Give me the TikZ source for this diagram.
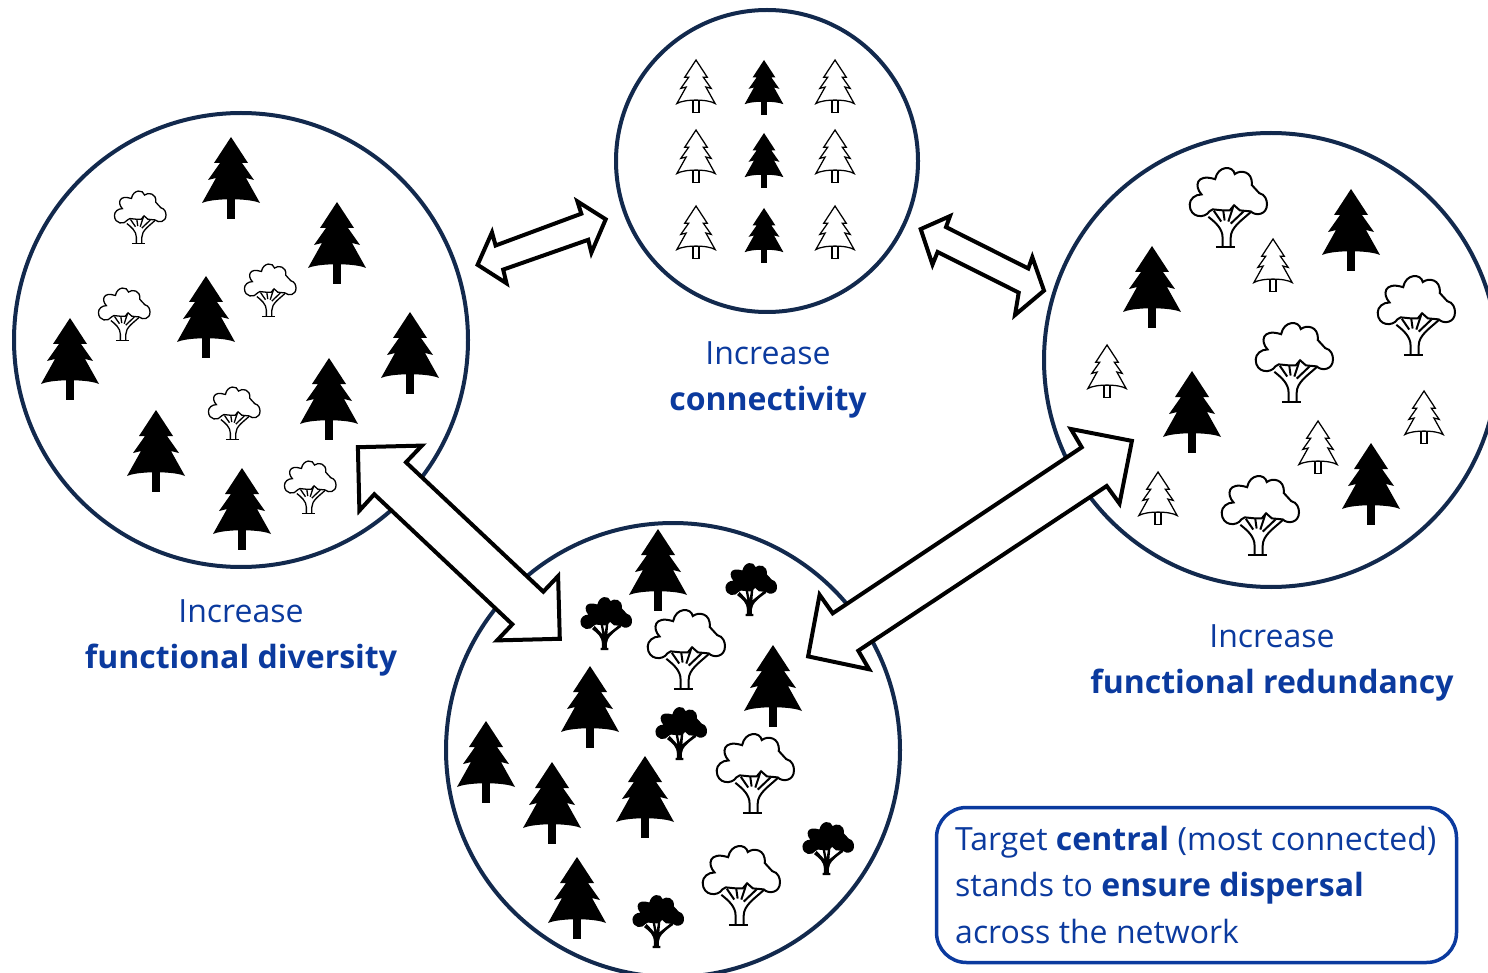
\documentclass[tikz,border=0pt]{standalone}
\usepackage{fontspec}
\setmainfont{Open Sans}
\definecolor{ringnavy}{HTML}{12294D}
\definecolor{labelblue}{HTML}{0B3A9E}
\tikzset{
  ring/.style={circle,draw=ringnavy,line width=4pt,minimum size=#1,inner sep=0pt,outer sep=0pt},
  blockarrow/.style={draw=black,fill=white,line width=4pt,miter limit=10},
  lbl/.style={anchor=base,text=labelblue,font=\fontsize{32}{32}\selectfont,inner sep=0pt},
  notebox/.style={draw=labelblue,line width=3.5pt,rounded corners=30pt,anchor=north west,inner sep=0pt,outer sep=0pt,minimum width=520pt,minimum height=155pt},
}
% conifer crown; #1 is the height of the curve's control points
\newcommand{\coniferpath}[1]{(0,0) -- (17,26) -- (11,26) -- (23,43) -- (15,41) -- (29,66)
      .. controls (18,#1) and (-18,#1) .. (-29,66)
      -- (-15,41) -- (-23,43) -- (-11,26) -- (-17,26) -- cycle}
\newcommand{\conifersolid}[3]{%
  \begin{scope}[shift={(#1,#2)},scale=#3]
    \fill[black] \coniferpath{61};
    \fill[black] (-4,58) rectangle (4,82);
  \end{scope}}
\newcommand{\coniferline}[2]{%
  \begin{scope}[shift={(#1,#2)},scale=.66,line width=1.25pt,draw=black,miter limit=4]
    \filldraw[fill=white] \coniferpath{59};
    \filldraw[fill=white] (-4.5,61) rectangle (4.5,80);
  \end{scope}}
\newcommand{\crownpath}{(-55,128) .. controls (-68,150) and (-113,148) .. (-113,108)
      .. controls (-113,92) and (-98,78) .. (-78,78)
      .. controls (-100,55) and (-95,15) .. (-38,33)
      .. controls (-30,-8) and (15,-8) .. (20,18)
      .. controls (35,5) and (74,8) .. (70,50)
      -- (92,74) .. controls (110,78) and (115,95) .. (115,107)
      .. controls (115,138) and (82,143) .. (67,128)
      -- (35,125) -- (18,110) -- (5,125) -- (-15,125) -- (-45,122) -- cycle}
% outlined broadleaf: x, top y, scale, line width
\newcommand{\broadline}[4]{%
  \begin{scope}[shift={(#1,#2)},scale=#3,line width=#4,draw=black]
    \filldraw[fill=white] \crownpath;
    \draw (-58,144) .. controls (-38,160) and (-16,178) .. (-16,205) -- (-16,233);
    \draw (-36,233) -- (21,233);
    \draw (8,233) -- (8,205) .. controls (8,175) and (40,155) .. (67,130);
    \draw (-42,126) -- (-20,158) (-14,126) -- (-10,155) (16,112) -- (1,158) (46,128) -- (8,164);
  \end{scope}}
% solid broadleaf: x, top y, scale
\newcommand{\broadsolid}[3]{%
  \begin{scope}[shift={(#1,#2)},scale=#3]
    \fill[black] \crownpath;
    \fill[black] (-62,142) .. controls (-38,160) and (-18,178) .. (-18,205) -- (-18,225) -- (-24,225) -- (-24,235) -- (10,235) -- (10,225) -- (4,225) -- (4,205) .. controls (4,180) and (35,155) .. (68,132) -- (60,122) -- (6,165) -- (10,120) -- (0,120) -- (-6,160) -- (-14,120) -- (-24,120) -- (-16,165) -- (-50,128) -- cycle;
  \end{scope}}
\begin{document}
\begin{tikzpicture}[x=1pt,y=-1pt]
\useasboundingbox (0,0) rectangle (1488,973);
\clip (0,0) rectangle (1488,973);
\node[ring=454pt] (left) at (241,340) {};
\node[ring=302pt] (top) at (767,161) {};
\node[ring=454pt] (right) at (1271,360) {};
\node[ring=454pt] (bottom) at (673,750) {};

% left stand
\foreach \x/\y in {231/137,337/202,206/276,70/318,410/312,329/358,156/410,242/468}{\conifersolid{\x}{\y}{1}}
\foreach \x/\y in {140/191,270/264,124/288,234/387,310/461}{\broadline{\x}{\y}{.226}{1.3pt}}
% top stand
\foreach \x/\y in {696/60,835/60,696/130,835/130,696/206,835/206}{\coniferline{\x}{\y}}
\foreach \x/\y in {764/60,764/133,764/208}{\conifersolid{\x}{\y}{.67}}
% right stand
\foreach \x/\y in {1351/189,1152/246,1192/371,1371/443}{\conifersolid{\x}{\y}{1}}
\foreach \x/\y in {1273/239,1107/345,1424/391,1318/421,1158/472}{\coniferline{\x}{\y}}
\foreach \x/\y in {1228/168,1416/276,1294/323,1260/476}{\broadline{\x}{\y}{.339}{2pt}}
% bottom stand
\foreach \x/\y in {658/529,773/645,590/666,486/721,552/762,645/756,577/857}{\conifersolid{\x}{\y}{1}}
\foreach \x/\y in {606/597,751/563,681/707,828/822,658/895}{\broadsolid{\x}{\y}{.226}}
\foreach \x/\y in {686/610,755/734,741/846}{\broadline{\x}{\y}{.339}{2pt}}

% block arrows
\path[blockarrow] (605.7,219.3) -- (577.4,201.4) -- (581.3,213.7) -- (495.6,245.5) -- (492,232.4) -- (477.6,264.8) -- (506.5,283.3) -- (503.2,269.6) -- (588.2,239.8) -- (591.4,252.7) -- cycle;
\path[blockarrow] (920.7,229.1) -- (950,216.1) -- (946,227.1) -- (1028.3,268.5) -- (1032.3,257.2) -- (1044,290.6) -- (1015,315) -- (1018.7,292.6) -- (937.6,252) -- (932.5,264.5) -- cycle;
\path[blockarrow] (357.9,447.2) -- (421.9,445.6) -- (406,462.3) -- (543.3,591.7) -- (558.1,576.1) -- (559.8,638.8) -- (497.1,640.4) -- (512.3,624.3) -- (374.3,494.3) -- (359.4,510.6) -- cycle;
\path[blockarrow] (1131.9,440.9) -- (1070.9,429) -- (1081.7,447.3) -- (832.7,613.3) -- (819.6,594.8) -- (808.1,656.4) -- (869.1,669.3) -- (858.3,650.7) -- (1106.7,486) -- (1119.5,503.6) -- cycle;

% labels
\node[lbl] (incA) at (768,364) {Increase};
\node[lbl] (conn) at (768,410) {\textbf{connectivity}};
\node[lbl] (incB) at (241,622) {Increase};
\node[lbl] (fdiv) at (241,668) {\textbf{functional diversity}};
\node[lbl] (incC) at (1272,647) {Increase};
\node[lbl] (fred) at (1272,693) {\textbf{functional redundancy}};

\node[notebox] (note) at (936.5,807.5) {};
\node[lbl,anchor=base west] (noteA) at (955,850) {Target \textbf{central} (most connected)};
\node[lbl,anchor=base west] (noteB) at (955,896) {stands to \textbf{ensure dispersal}};
\node[lbl,anchor=base west] (noteC) at (955,943) {across the network};
\end{tikzpicture}
\end{document}
